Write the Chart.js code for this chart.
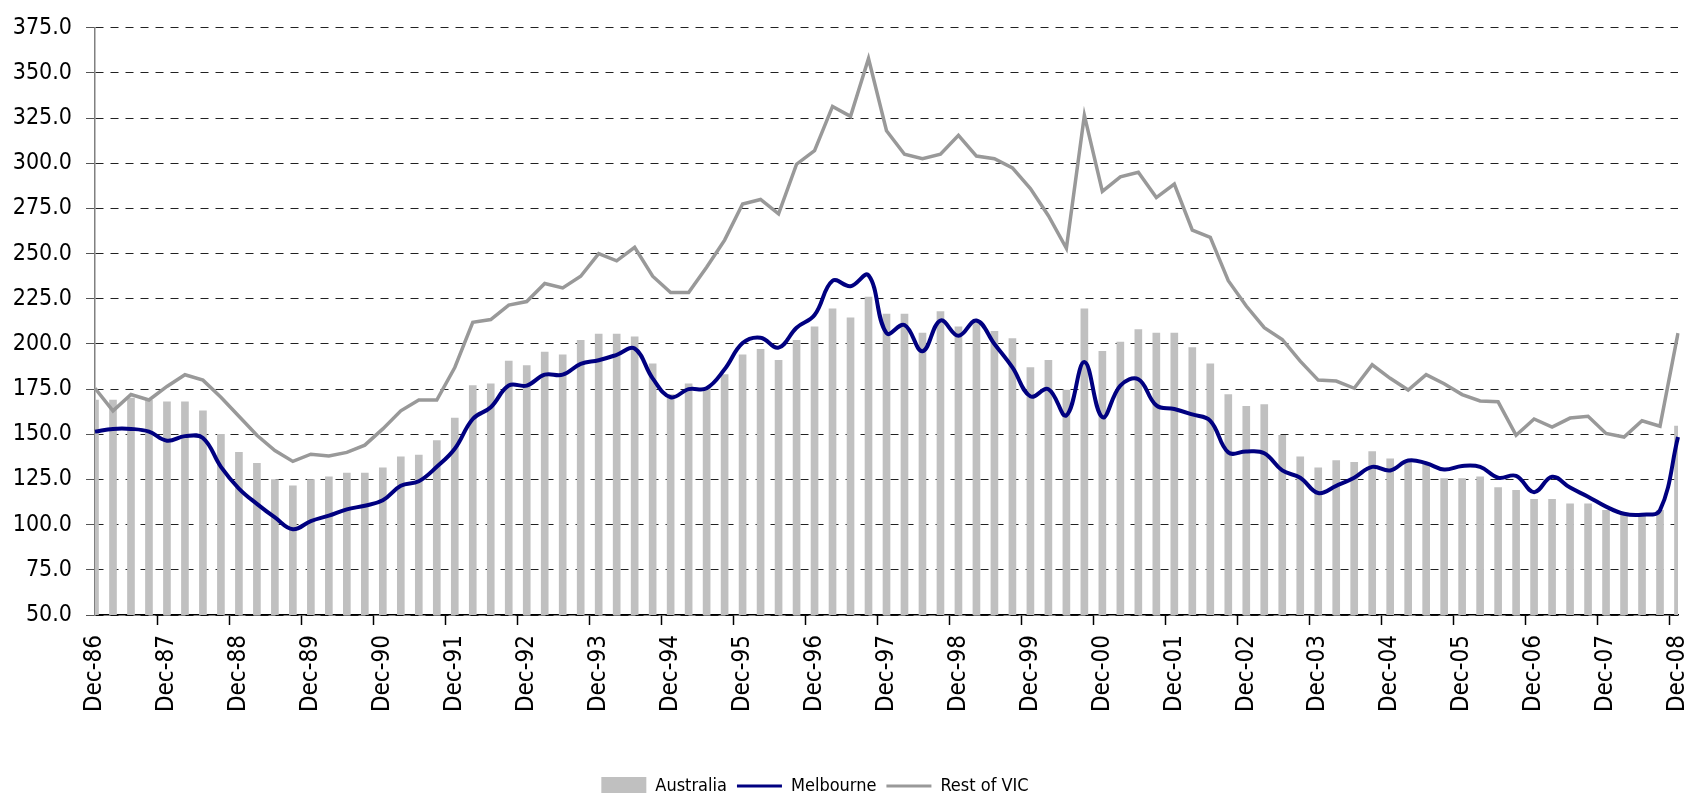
<!DOCTYPE html>
<html lang="en">
<head>
    <meta charset="UTF-8">
    <title>Australia, Melbourne and Rest of VIC</title>
    <script src="https://cdn.jsdelivr.net/npm/chart.js"></script>
    <style>
        body {
            margin: 0;
            padding: 0;
            background: #fff;
        }
        .chart-box {
            width: 1688px;
            height: 793px;
            position: relative;
        }
    </style>
</head>
<body>
    <div class="chart-box">
        <canvas id="chart"></canvas>
    </div>

    <script>
        // quarterly categories, Dec-86 .. Dec-08
        const quarters = [
            'Dec-86',
            'Mar-87', 'Jun-87', 'Sep-87', 'Dec-87',
            'Mar-88', 'Jun-88', 'Sep-88', 'Dec-88',
            'Mar-89', 'Jun-89', 'Sep-89', 'Dec-89',
            'Mar-90', 'Jun-90', 'Sep-90', 'Dec-90',
            'Mar-91', 'Jun-91', 'Sep-91', 'Dec-91',
            'Mar-92', 'Jun-92', 'Sep-92', 'Dec-92',
            'Mar-93', 'Jun-93', 'Sep-93', 'Dec-93',
            'Mar-94', 'Jun-94', 'Sep-94', 'Dec-94',
            'Mar-95', 'Jun-95', 'Sep-95', 'Dec-95',
            'Mar-96', 'Jun-96', 'Sep-96', 'Dec-96',
            'Mar-97', 'Jun-97', 'Sep-97', 'Dec-97',
            'Mar-98', 'Jun-98', 'Sep-98', 'Dec-98',
            'Mar-99', 'Jun-99', 'Sep-99', 'Dec-99',
            'Mar-00', 'Jun-00', 'Sep-00', 'Dec-00',
            'Mar-01', 'Jun-01', 'Sep-01', 'Dec-01',
            'Mar-02', 'Jun-02', 'Sep-02', 'Dec-02',
            'Mar-03', 'Jun-03', 'Sep-03', 'Dec-03',
            'Mar-04', 'Jun-04', 'Sep-04', 'Dec-04',
            'Mar-05', 'Jun-05', 'Sep-05', 'Dec-05',
            'Mar-06', 'Jun-06', 'Sep-06', 'Dec-06',
            'Mar-07', 'Jun-07', 'Sep-07', 'Dec-07',
            'Mar-08', 'Jun-08', 'Sep-08', 'Dec-08'
        ];

        // bars
        const australia = [
            169,
            169, 170, 169, 168,
            168, 163, 150, 140,
            134, 125, 121.5, 125,
            126.5, 128.5, 128.5, 131.5,
            137.5, 138.5, 146.5, 159,
            177, 178, 190.5, 188,
            195.5, 194, 202, 205.5,
            205.5, 204, 189, 172,
            178, 176, 183, 194,
            197, 191, 202, 209.5,
            219.5, 214.5, 226, 216.5,
            216.5, 206, 218, 209.5,
            212.5, 207, 203, 187,
            191, 174.5, 219.5, 196,
            201, 208, 206, 206,
            198, 189, 172, 165.5,
            166.5, 149.5, 137.5, 131.5,
            135.5, 134.5, 140.5, 136.5,
            135.5, 133.5, 125.5, 125.5,
            126.5, 120.5, 119, 114,
            114, 111.5, 111.5, 108,
            106, 105, 108, 154.5
        ];

        const melbourne = [
            151.5,
            153, 153, 151.5, 146.5,
            149, 148, 132, 120,
            111.5, 104, 97.5, 102,
            105, 108.5, 110.5, 113.5,
            121.5, 124, 132, 142,
            158.5, 165, 177, 177,
            183, 183, 189, 191,
            194, 197.5, 181, 170.5,
            175, 175.5, 186, 200.5,
            203.5, 198, 209, 216,
            235, 232, 238, 206,
            210.5, 196, 213, 204.5,
            213, 200, 187, 171,
            175, 160.5, 190, 159.5,
            177, 180.5, 166, 164,
            161, 157.5, 140, 140.5,
            139.5, 130, 126, 117.5,
            121.5, 126, 132, 130,
            135.5, 134, 130.5, 132.5,
            132, 126, 127, 118,
            126.5, 120.5, 115.5, 110,
            106, 105.5, 108, 148.5
        ];

        const restOfVic = [
            175.5,
            163, 172, 169, 176.5,
            183, 180, 170.5, 160,
            149.5, 141, 135, 139,
            138, 140, 144, 153,
            163, 169, 169, 187,
            212, 213.5, 221.5, 223.5,
            233.5, 231, 237.5, 250,
            246, 253.5, 237.5, 228.5,
            228.5, 242.5, 257.5, 277.5,
            280, 272, 299.5, 307,
            331.5, 326, 358, 318,
            305, 302.5, 305, 315.5,
            304, 302.5, 297.5, 286,
            271, 253, 326.5, 284.5,
            292.5, 295, 281, 288.5,
            263, 259, 235, 221,
            209, 202.5, 190.5, 180,
            179.5, 175.5, 188.5, 181,
            174.5, 183, 178, 172,
            168.5, 168, 149.5, 158.5,
            154, 159, 160, 150.5,
            148.5, 157.5, 154.5, 206
        ];

        const yMin = 50;
        const yMax = 375;
        const yStep = 25;

        Chart.defaults.color = '#000';
        Chart.defaults.font.family = "'DejaVu Sans Condensed', 'Liberation Sans', sans-serif";

        // the legend sits a little left of the canvas centre
        const legendShift = {
            id: 'legendShift',
            afterLayout(chart) {
                if (chart.legend) {
                    chart.legend.left -= 24;
                    chart.legend.right -= 24;
                }
            }
        };

        new Chart(document.getElementById('chart'), {
            data: {
                labels: quarters,
                datasets: [
                    {
                        type: 'bar',
                        label: 'Australia',
                        data: australia,
                        backgroundColor: '#c0c0c0',
                        borderWidth: 0,
                        barThickness: 7,
                        order: 3
                    },
                    {
                        type: 'line',
                        label: 'Melbourne',
                        data: melbourne,
                        borderColor: '#000080',
                        backgroundColor: '#000080',
                        borderWidth: 4,
                        tension: 0.4,
                        pointRadius: 0,
                        pointHoverRadius: 0,
                        order: 1
                    },
                    {
                        type: 'line',
                        label: 'Rest of VIC',
                        data: restOfVic,
                        borderColor: '#999999',
                        backgroundColor: '#999999',
                        borderWidth: 3.5,
                        tension: 0,
                        pointRadius: 0,
                        pointHoverRadius: 0,
                        order: 2
                    }
                ]
            },
            plugins: [legendShift],
            options: {
                responsive: true,
                maintainAspectRatio: false,
                animation: false,
                layout: {
                    padding: { top: 12, right: 10, left: 0, bottom: -12 }
                },
                scales: {
                    x: {
                        type: 'category',
                        offset: false,
                        afterFit: s => {
                            s.height = 152;
                            s.paddingLeft = 0;
                            s.paddingRight = 10;
                        },
                        grid: {
                            drawOnChartArea: false,
                            tickLength: 10,
                            tickWidth: 1.5,
                            tickColor: ctx => (ctx.index % 4 === 0 ? '#000' : 'rgba(0,0,0,0)')
                        },
                        border: { color: '#000', width: 1.5 },
                        ticks: {
                            autoSkip: false,
                            minRotation: 90,
                            maxRotation: 90,
                            padding: 10,
                            font: { size: 24 },
                            callback: function (value, index) {
                                return index % 4 === 0 ? this.getLabelForValue(value) : '';
                            }
                        }
                    },
                    y: {
                        min: yMin,
                        max: yMax,
                        afterFit: s => { s.width = 95; },
                        grid: {
                            color: '#222',
                            lineWidth: 1,
                            tickLength: 9,
                            tickColor: '#555'
                        },
                        border: { color: '#808080', width: 1.5, dash: [8, 7] },
                        ticks: {
                            stepSize: yStep,
                            padding: 14,
                            font: { size: 23 },
                            callback: v => v.toFixed(1)
                        }
                    }
                },
                plugins: {
                    tooltip: { enabled: false },
                    legend: {
                        position: 'bottom',
                        labels: {
                            usePointStyle: true,
                            pointStyleWidth: 45,
                            boxHeight: 18,
                            padding: 10,
                            font: { size: 18 },
                            sort: (a, b) => a.datasetIndex - b.datasetIndex,
                            generateLabels: chart => {
                                const items = Chart.defaults.plugins.legend.labels.generateLabels(chart);
                                items.forEach(it => {
                                    const ds = chart.data.datasets[it.datasetIndex];
                                    it.pointStyle = ds.type === 'bar' ? 'rect' : 'line';
                                    it.fillStyle = ds.backgroundColor;
                                    it.strokeStyle = ds.type === 'bar' ? ds.backgroundColor : ds.borderColor;
                                    it.lineWidth = ds.type === 'bar' ? 0 : 3;
                                });
                                return items;
                            }
                        }
                    }
                }
            }
        });
    </script>
</body>
</html>
